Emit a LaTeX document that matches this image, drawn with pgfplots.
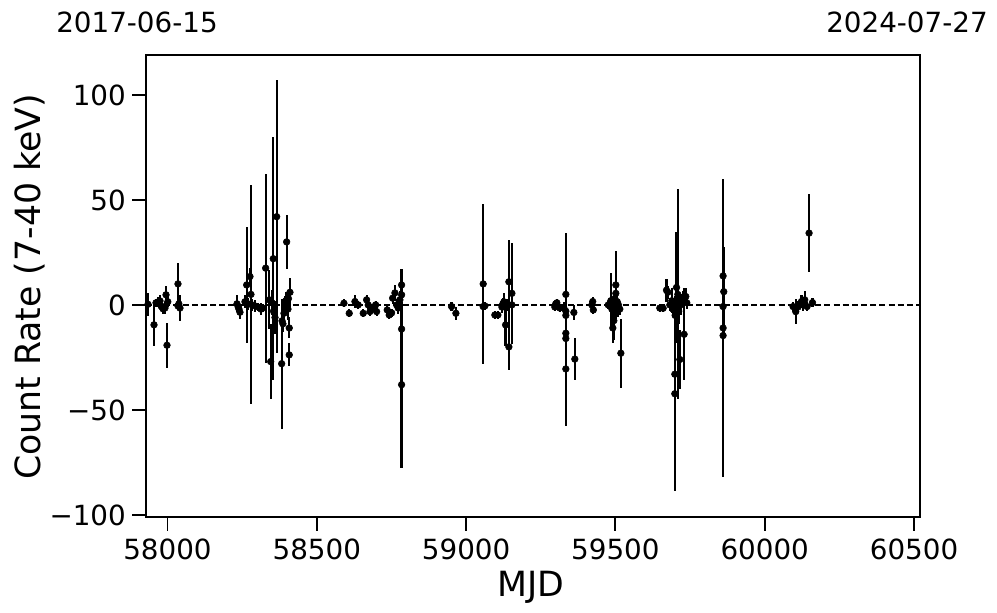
\documentclass[border=0pt]{standalone}
\usepackage{fontspec}
\setmainfont{DejaVu Sans}
\usepackage{pgfplots}
\pgfplotsset{compat=1.18}
\usepackage{pgfplotstable}

\pgfplotstableread{
x y e
57934.7 0.3 5.5
57954.8 -9.5 10
57961.5 1.0 2
57968.2 1.4 2.5
57974.9 1.9 3
57978.3 -0.5 2
57981.6 -1 2
57985.0 -1.9 2.5
57991.6 -1.5 3
57995.0 4.8 4.3
57998.3 -19.2 10.7
58001 1.5 2.5
58035.1 10 10
58035.1 -0.5 2
58038 0.5 2
58041.8 -1.5 6
58232.7 0.5 4
58237 -1 3
58239.4 -2 3
58242.7 -3.5 3
58259.4 1.5 3
58265.1 9.5 27.7
58269.5 0.5 3
58276.2 13.5 4
58279.5 5 52
58282.9 0 3
58292.9 -0.5 3
58303.0 -1 2
58313.0 -2 3
58319.7 -1.5 2
58328.7 17.5 45
58340.8 2.4 14
58345.5 -27 18
58350 1 6
58355 -3 5
58354.2 22 58
58360 -6 8
58365.6 42 65
58382.3 -28 31
58383.6 -7.6 4
58386.6 -9 4
58390 -4 5
58393.3 0 4
58396 2 4
58399.0 30 12.7
58400 -1 3
58403.4 -2 5
58405 3 4
58407.7 -11 5
58407.7 -23.8 5.5
58410.1 6 7
58590.9 0.8 2
58608.6 -4 2
58627.7 1.6 3
58638.7 0 2
58655.5 -4 2
58666.8 2.4 2.5
58672.2 0 2
58677.9 -3.2 2
58688.9 -1.6 2
58697.0 0 2
58700.3 -3.2 2
58735.8 -2.4 2
58742.5 -4.8 2
58750.5 -3.8 2
58753.9 3.2 3
58761.6 5.7 4
58767.3 0 3
58772.6 -1.5 3
58778.3 2.4 4
58784.0 9.5 7.5
58784.0 4.8 3
58784.0 -11.5 7
58784.0 -38 39.5
58951.4 -0.8 2
58965.8 -4 3
59057.2 10 38
59057.2 -0.8 2
59062.9 -0.5 2
59096.3 -4.8 2
59106.4 -4.8 2
59119.8 -1 3
59123 0.5 3
59126.5 1.5 4
59129 -1 3
59132.2 -9.5 10
59136.5 0 3
59143.2 11 20
59143.2 -20 11
59153.3 5.5 24
59153.3 0 3
59297.2 -1 2
59300 0.5 2
59303.9 1 2
59313.9 -1.5 2
59327.3 -1.5 3
59334.0 5 29
59334.0 -30.5 27
59334.0 -13.5 5
59334.0 -16 5
59334.0 -3 3
59334.0 -5 4
59360.8 -3.6 3.6
59364.1 -25.8 10
59421 0 2
59424 1.6 2
59426 -2.4 2
59476 0 2
59481.3 0 2
59484.7 2 13
59488.1 -2 4
59491.4 -11 7
59494.7 -7.5 9
59496 1 3
59498.1 3 3
59501.4 9.5 16
59501.4 5.5 4
59504.8 -1 3
59506 1.5 3
59508.1 -3 3
59510 0 2
59514.8 -2 3
59518.2 -23 16.5
59648.7 -1.5 2
59659.8 -1.6 2
59671.1 7 5.5
59675.5 6 3
59682.2 0 3
59688.9 2 6
59692.3 -2 4
59698.9 -33 12
59698.9 -42.3 46.3
59700 -5 8
59704.6 8.3 26.5
59709.0 5 50
59712 -3 6
59715.7 -26 14
59718 0 5
59725.7 3.5 3
59730.1 -14 22
59735.7 4 4
59739.1 1 3
59860.6 -11 71
59862.9 6.3 21.5
59860.6 13.8 4
59860.6 -0.8 3
59860.6 -14.6 4
60094.9 -0.8 2
60103.9 -3.2 6
60111.6 -1 3
60123.0 1.6 3
60128.4 0 3
60134.0 2.4 4
60141.8 -0.8 2
60148.5 34.2 18.5
60159.9 1.1 2
}\data

\begin{document}
\begin{tikzpicture}
\useasboundingbox (-105.12pt,-69.12pt) rectangle (612.72pt,372.24pt);
\begin{axis}[
  at={(0pt,0pt)}, anchor=south west, scale only axis,
  width=557.28pt, height=332.64pt,
  xmin=57928, xmax=60520, ymin=-101, ymax=119,
  scaled x ticks=false, scaled y ticks=false,
  xtick={58000,58500,59000,59500,60000,60500},
  xticklabels={58000,58500,59000,59500,60000,60500},
  ytick={-100,-50,0,50,100},
  yticklabels={−100,−50,0,50,100},
  tick align=outside, xtick pos=left, ytick pos=left,
  major tick length=10pt,
  every tick/.style={black, line width=1.4pt},
  axis line style={line width=0.8pt},
  ticklabel style={font=\fontsize{20}{24}\selectfont},
  xticklabel style={yshift=-2pt},
  yticklabel style={xshift=-1pt},
]
\addplot[black, line width=1pt, dash pattern=on 4.4pt off 2.2pt, forget plot] coordinates {(57928,0) (60520,0)};
\addplot[only marks, mark=*, mark size=2.4pt, black,
  error bars/.cd, y dir=both, y explicit, error mark=none,
  error bar style={line width=1.6pt, black}]
  table[x=x, y=y, y error=e] {\data};
\end{axis}
\node[font=\fontsize{25}{30}\selectfont, anchor=base] at (277.2pt,-57.6pt) {MJD};
\node[font=\fontsize{25}{30}\selectfont, rotate=90, anchor=center] at (-83.52pt,165.6pt) {Count Rate (7-40 keV)};
\node[font=\fontsize{20}{24}\selectfont, anchor=base] at (-6.48pt,348.5pt) {2017-06-15};
\node[font=\fontsize{20}{24}\selectfont, anchor=base] at (547.92pt,348.5pt) {2024-07-27};
\end{tikzpicture}
\end{document}
